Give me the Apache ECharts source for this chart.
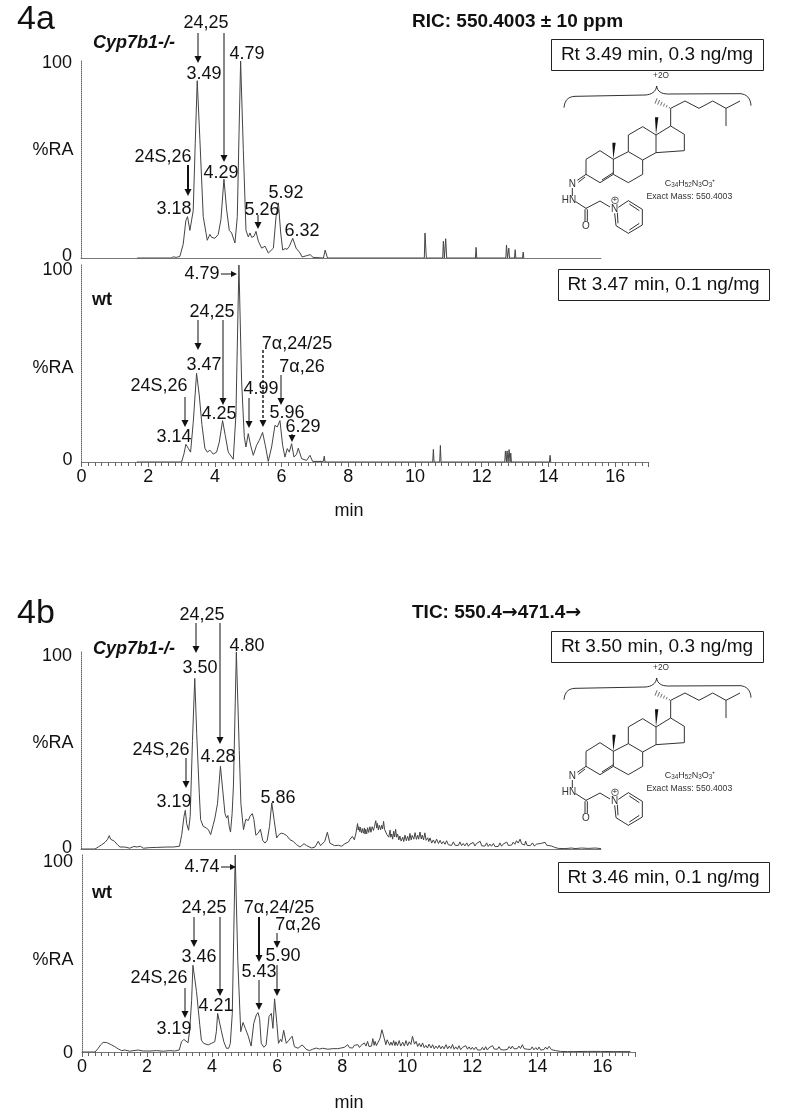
<!DOCTYPE html>
<html>
<head>
<meta charset="utf-8">
<title>Chromatograms 4a 4b</title>
<style>
html,body{margin:0;padding:0;background:#fff;}
#main{width:787px;height:1120px;}
</style>
<script src="https://cdn.jsdelivr.net/npm/echarts@6/dist/echarts.min.js"></script>
</head>
<body>
<div id="main"></div>
<script>
// values: [retention time in min, %RA]
var traceA1 = [[1.68,0],[1.72,1],[1.78,0],[2.7,0],[2.76,0.6],[2.85,0.3],[2.96,0.8],[3.06,7],[3.14,19],[3.19,21],[3.26,14],[3.31,13.5],[3.36,24],[3.42,58],[3.48,90],[3.56,60],[3.66,21],[3.74,13],[3.78,9],[3.86,12],[3.91,10.5],[3.96,11],[4.01,10],[4.11,12],[4.19,19.5],[4.28,40],[4.36,24.5],[4.44,14],[4.51,12.7],[4.61,7.6],[4.68,21],[4.73,62],[4.78,100],[4.86,55],[4.94,14],[5.01,10.7],[5.06,12.7],[5.11,10.5],[5.18,11],[5.24,13.5],[5.31,8.5],[5.41,5],[5.51,6],[5.61,2.5],[5.76,5],[5.84,21],[5.91,28],[5.98,12.7],[6.04,4],[6.11,4.8],[6.17,4.4],[6.24,6],[6.34,10],[6.44,5],[6.56,2.5],[6.62,0.5],[6.76,1.2],[6.86,1.7],[6.95,0.3],[7.26,0],[7.31,4],[7.35,4.2],[7.38,0],[10.28,0],[10.3,12.7],[10.34,0],[10.83,0],[10.85,8.5],[10.88,0],[10.9,0],[10.92,9.8],[10.95,0],[11.81,0],[11.83,5.4],[11.85,0],[12.72,0],[12.74,6.6],[12.77,0],[12.79,0],[12.81,5],[12.83,0],[12.98,0],[13,4.2],[13.02,0],[13.22,0],[13.24,3],[13.26,0]];
var traceA2 = [[1.66,0],[1.7,0.5],[1.74,0],[3,0],[3.07,4],[3.13,9],[3.2,7],[3.27,5],[3.35,20],[3.45,45],[3.53,34],[3.61,19],[3.7,7],[3.77,5],[3.85,6],[3.95,4],[4.05,5],[4.13,10],[4.23,21],[4.31,13.5],[4.4,5],[4.55,1.4],[4.63,24],[4.72,100],[4.8,41],[4.88,13],[4.93,7.6],[5,14.4],[5.07,8.5],[5.15,3.4],[5.25,8.5],[5.33,11],[5.43,15],[5.51,8.5],[5.6,0.3],[5.7,7.6],[5.8,18.6],[5.87,17.8],[5.95,21],[6.03,8.5],[6.1,2.5],[6.17,6.8],[6.23,5],[6.3,9.3],[6.37,2.5],[6.45,4],[6.5,7],[6.6,1.7],[6.75,0.8],[6.85,3.4],[6.93,0.3],[7.25,0.3],[7.28,3],[7.3,0],[10.53,0],[10.55,6.4],[10.57,0],[10.74,0],[10.76,8.4],[10.78,0],[12.69,0],[12.71,5.6],[12.74,0],[12.76,5.6],[12.79,0],[12.82,6.3],[12.85,0],[12.87,4.5],[12.89,0],[14.03,0],[14.05,3.4],[14.07,0]];
var traceB1 = [[0,0],[0.43,0],[0.53,1],[0.64,2.2],[0.74,3.4],[0.81,4.7],[0.87,6.8],[0.91,5],[0.96,5.4],[1.03,3.9],[1.12,2.2],[1.2,1],[1.35,1],[1.5,0.4],[1.63,1.3],[1.72,1],[1.82,1.4],[1.92,0.4],[2.12,0.7],[2.33,0.8],[2.64,1],[2.84,1],[3.03,1.4],[3.1,7.3],[3.17,16.6],[3.21,19.6],[3.25,13],[3.31,9.5],[3.36,16.6],[3.43,55],[3.5,86.6],[3.56,58.7],[3.64,28],[3.68,15],[3.76,11.5],[3.85,10.7],[3.92,9.8],[3.99,7.3],[4.07,12.4],[4.12,15.7],[4.17,15],[4.2,23],[4.29,42],[4.36,30],[4.43,18],[4.48,15.7],[4.52,17],[4.56,11.5],[4.6,8.6],[4.65,18],[4.69,32],[4.78,100],[4.87,50],[4.92,23],[5,9.8],[5.07,15],[5.15,14.5],[5.2,16.6],[5.27,18],[5.32,15],[5.38,7],[5.45,8],[5.52,10],[5.59,4.4],[5.66,3],[5.73,4.4],[5.8,11.5],[5.87,23.4],[5.94,15],[6.02,5.6],[6.09,7.3],[6.16,8],[6.23,7.8],[6.33,6.8],[6.43,4.7],[6.53,3.9],[6.63,2.2],[6.74,1],[6.86,2.7],[6.94,1.7],[7.1,0.5],[7.2,1],[7.3,3.9],[7.37,1.7],[7.5,3.9],[7.58,8.5],[7.66,3],[7.8,1.7],[7.92,1.9],[8.02,1.4],[8.12,2.7],[8.23,3.6],[8.28,5],[8.35,6.4],[8.41,4.7],[8.46,8],[8.51,12.9],[8.53,9.6],[8.55,11.3],[8.58,8.8],[8.6,11],[8.63,8.2],[8.66,10.3],[8.69,8],[8.72,10.7],[8.74,7.6],[8.76,10],[8.79,7.7],[8.82,10.8],[8.85,8.4],[8.89,11.3],[8.92,8.5],[8.96,11.3],[9,9.4],[9.03,11.5],[9.07,14.4],[9.1,10.6],[9.12,13],[9.15,9.7],[9.18,12],[9.22,9.8],[9.25,12],[9.28,10.2],[9.31,14],[9.34,10],[9.37,11],[9.41,7.4],[9.44,8.4],[9.47,6],[9.51,9.6],[9.53,6],[9.56,7.6],[9.59,5],[9.62,9],[9.65,6.1],[9.68,10],[9.71,6],[9.74,7.6],[9.78,4.6],[9.81,6.6],[9.85,4],[9.9,6],[9.93,3.8],[9.97,7],[10.01,4.2],[10.05,6.4],[10.09,4.2],[10.12,7.9],[10.16,4.6],[10.19,6.9],[10.24,5],[10.28,8.3],[10.32,4.9],[10.36,7],[10.39,5],[10.43,8.6],[10.47,5.1],[10.5,7],[10.54,4.6],[10.58,8.2],[10.62,4.4],[10.67,5.7],[10.7,3.8],[10.74,5.6],[10.79,3],[10.84,4.6],[10.89,2.9],[10.94,5],[11,2.8],[11.05,4.4],[11.1,2.6],[11.15,3.8],[11.2,2.4],[11.25,4.2],[11.3,2.2],[11.35,3.2],[11.4,1.8],[11.46,3.6],[11.51,1.9],[11.56,2.9],[11.61,1.8],[11.66,3.6],[11.71,1.7],[11.76,2.8],[11.81,1.6],[11.87,3.1],[11.92,1.4],[11.97,2.5],[12.02,1.8],[12.07,3.3],[12.12,1.5],[12.17,2.8],[12.22,1.8],[12.28,3.9],[12.33,1.6],[12.38,2.4],[12.43,1.5],[12.48,3.1],[12.53,1.3],[12.58,2.5],[12.63,1.4],[12.69,2.8],[12.74,1.2],[12.79,2.1],[12.84,1.3],[12.89,3.1],[12.94,1.4],[12.99,2.5],[13.05,1.8],[13.1,3.5],[13.15,1.8],[13.2,2.8],[13.25,2],[13.3,3.5],[13.35,2.4],[13.4,4.2],[13.45,3],[13.51,5],[13.56,2.6],[13.61,3.1],[13.65,2],[13.68,4],[13.73,1.8],[13.78,2.8],[13.83,1.7],[13.89,3.1],[13.95,1.5],[14.02,2.5],[14.08,1.6],[14.15,2.8],[14.21,1.8],[14.28,3.4],[14.33,1.9],[14.38,1.4],[14.48,1.5],[14.58,0.8],[14.69,0.3],[14.89,0.2],[15.1,0.5],[15.2,0.2],[15.4,0.5],[15.61,0.3],[15.82,0.5],[16,0.2]];
var traceB2 = [[0,0],[0.4,0],[0.5,1.9],[0.57,3.6],[0.65,4.9],[0.7,4],[0.76,4.8],[0.81,4.4],[0.91,3.6],[1.01,2.7],[1.12,1.5],[1.22,0.7],[1.32,1],[1.47,0.4],[1.63,0.8],[1.73,1],[1.88,0.5],[2.09,0.5],[2.29,0.7],[2.5,0.4],[2.7,0.7],[2.85,0.5],[2.99,1],[3.06,5.2],[3.13,6.4],[3.19,7.4],[3.26,4.7],[3.31,11],[3.37,26],[3.41,44],[3.52,30.7],[3.62,13.8],[3.67,6],[3.74,4.4],[3.88,3.6],[3.98,4.4],[4.08,5.2],[4.13,10.3],[4.17,19.6],[4.23,18.8],[4.28,11],[4.36,5.2],[4.44,1.9],[4.51,1.9],[4.56,4.4],[4.62,19.6],[4.71,100],[4.79,46],[4.88,10.3],[4.95,15],[5.02,12],[5.1,8.6],[5.2,3],[5.28,14.6],[5.36,18.8],[5.41,20],[5.46,17],[5.51,4.4],[5.59,2.4],[5.66,3.6],[5.75,18],[5.82,19.6],[5.87,12],[5.92,27],[5.99,14.6],[6.04,4.4],[6.1,6.4],[6.14,5.2],[6.2,11],[6.28,4.4],[6.36,6],[6.46,8],[6.53,2.7],[6.64,1.9],[6.77,3.6],[6.89,1.4],[6.99,0.7],[7.09,1.4],[7.2,2],[7.3,1.5],[7.4,1.9],[7.56,1.4],[7.71,1.7],[7.76,1],[7.86,1.7],[7.96,2],[8.01,1.2],[8.07,2.4],[8.12,1.6],[8.17,3.7],[8.22,2.2],[8.27,2.9],[8.32,2],[8.37,3.4],[8.42,2.4],[8.48,3.7],[8.53,2.3],[8.58,3.4],[8.63,2.5],[8.68,4.6],[8.73,3],[8.78,5.4],[8.82,2.8],[8.86,3.7],[8.9,3],[8.94,6.8],[8.98,3.4],[9.01,5.4],[9.05,3.2],[9.09,4.6],[9.12,3.6],[9.16,6.8],[9.22,11.3],[9.29,7],[9.34,3.7],[9.38,6.2],[9.42,6.3],[9.46,3.4],[9.5,5],[9.54,3.4],[9.58,5.8],[9.62,3.2],[9.65,5.2],[9.7,3.2],[9.75,5.8],[9.8,3],[9.86,5],[9.91,3],[9.96,5.8],[10.01,3.2],[10.06,5.2],[10.11,3.8],[10.16,8],[10.22,4],[10.27,5.4],[10.32,2.8],[10.37,4.4],[10.42,2.6],[10.47,4.6],[10.52,2.2],[10.57,3.4],[10.62,2],[10.67,4],[10.73,2],[10.78,3.7],[10.83,1.6],[10.88,3],[10.93,1.8],[10.98,3.4],[11.03,1.6],[11.08,3],[11.13,1.6],[11.19,3.7],[11.24,1.6],[11.29,3],[11.34,1.8],[11.39,3.8],[11.44,1.4],[11.49,2.6],[11.54,1.4],[11.59,3.2],[11.64,1.2],[11.7,2.4],[11.75,1.4],[11.8,3.2],[11.85,1.4],[11.9,2.6],[11.95,1.3],[12,2.4],[12.05,1.2],[12.11,2.5],[12.16,1],[12.21,2],[12.26,1],[12.31,2.4],[12.36,1],[12.41,2.7],[12.46,1],[12.51,2.2],[12.56,1.4],[12.62,3.2],[12.67,1.5],[12.72,2.4],[12.77,1.4],[12.82,2.7],[12.87,1.2],[12.92,2.2],[12.97,1],[13.03,2],[13.08,1.3],[13.13,2.8],[13.18,1.6],[13.23,3],[13.28,1.6],[13.33,2.6],[13.38,1.7],[13.43,3],[13.48,1.8],[13.54,3.7],[13.59,1.7],[13.64,2.7],[13.69,1.4],[13.74,2.4],[13.79,1.3],[13.84,2.6],[13.89,1.1],[13.95,2.2],[14,1.1],[14.05,2.5],[14.1,1],[14.15,2],[14.2,1.2],[14.25,2.5],[14.3,1.4],[14.36,2.9],[14.43,1.2],[14.56,0.7],[14.71,0.3],[14.92,0.2],[15.12,0.2],[15.53,0.3],[15.94,0.3],[16.35,0.2],[16.86,0.2]];

var yTicks = [0, 100];
var xTickStep = 2;
var fontName = '"Liberation Sans"';
var ink = '#111';

// hand placed labels, same as in the paper figure: text, centre x, centre y
var peakLabels = [
  ['24,25',206,23],['3.49',204,74],['4.79',247,54],['24S,26',163,157],['4.29',221,173],['5.92',286,193],['3.18',174,209],['5.26',262,210],['6.32',302,231],
  ['4.79',202,274],['24,25',212,312],['7α,24/25',297,344],['7α,26',302,367],['3.47',204,365],['24S,26',159,386],['4.99',261,389],['4.25',219,414],['5.96',287,413],['6.29',303,427],['3.14',174,437],
  ['24,25',202,615],['4.80',247,646],['3.50',200,668],['24S,26',161,750],['4.28',218,757],['3.19',174,802],['5.86',278,798],
  ['4.74',202,867],['24,25',204,908],['7α,24/25',279,908],['7α,26',298,925],['3.46',199,957],['5.90',283,956],['24S,26',159,978],['5.43',259,972],['4.21',216,1006],['3.19',174,1029]
];
// arrows: x, y start, y tip, line width, dashed
var downArrows = [
  [198,33,63,1],[224,33,162,1],[188,165,196,2],[258,215,229,1],
  [198,320,350,1],[223,320,405,1],[263,350,427,1.4,true],[281,375,405,1],[185,397,427,1],[249,398,428,1],[292,434,442,1],
  [196,623,653,1],[220,623,744,1],[186,758,788,1],
  [194,917,947,1],[220,917,996,1],[259,917,962,2],[277,933,948,1],[277,965,996,1],[185,988,1018,1],[259,980,1010,1]
];
var sideArrows = [[221,237,274],[221,236,867]];

function text(str, x, y, font, align) {
  return {type:'text', z:20, silent:true, style:{text:str, x:x, y:y, font:font || ('18px ' + fontName), fill:ink, textAlign:align || 'center', verticalAlign:'middle'}};
}
function arrowTitle(a, b, x, y) {
  return {type:'text', z:20, silent:true, style:{
    text:'{t|' + a + '}{g|→}{t|' + b + '}{g|→}', x:x, y:y, textAlign:'left', verticalAlign:'middle',
    rich:{t:{font:'bold 19px ' + fontName, fill:ink}, g:{font:'bold 19px "DejaVu Sans"', fill:ink}}
  }};
}
function downArrow(a) {
  var x = a[0], y1 = a[1], y2 = a[2];
  return [
    {type:'line', z:20, silent:true, shape:{x1:x, y1:y1, x2:x, y2:y2 - 6}, style:{stroke:ink, lineWidth:a[3], lineDash:a[4] ? [3,2] : null}},
    {type:'polygon', z:20, silent:true, shape:{points:[[x - 3.5,y2 - 7],[x + 3.5,y2 - 7],[x,y2]]}, style:{fill:ink}}
  ];
}
function sideArrow(a) {
  return [
    {type:'line', z:20, silent:true, shape:{x1:a[0], y1:a[2], x2:a[1] - 5, y2:a[2]}, style:{stroke:ink, lineWidth:1}},
    {type:'polygon', z:20, silent:true, shape:{points:[[a[1] - 6,a[2] - 3],[a[1] - 6,a[2] + 3],[a[1],a[2]]]}, style:{fill:ink}}
  ];
}
function box(x, y, w, h, str) {
  return [
    {type:'rect', z:20, silent:true, shape:{x:x + 0.5, y:y + 0.5, width:w, height:h}, style:{fill:'#fff', stroke:'#222', lineWidth:1}},
    text(str, x + w / 2, y + h / 2 + 0.5, '19px ' + fontName)
  ];
}

// structure drawn at 3x and scaled down, so the numbers are the zoomed picture ones
function molecule(x, y) {
  var bonds = [
    [[812,325],[855,303],[897,325],[938,303],[978,325],[1020,303]],[[978,325],[978,378]],[[812,325],[812,378]],
    [[812,378],[853,403],[853,452],[768,458],[768,405],[812,378]],
    [[768,405],[728,380],[685,405],[685,455],[728,480],[768,458]],
    [[685,455],[640,478],[640,523],[685,548],[728,523],[728,480]],
    [[640,478],[600,452],[558,478],[558,523],[600,548],[640,523]],
    [[606,540],[640,518]],
    [[558,523],[532,541]],[[555,531],[535,547]],
    [[517,564],[517,588]],[[527,605],[558,625],[600,603],[630,621]],
    [[555,628],[555,664]],[[562,628],[562,664]],[[558,625],[558,628]],
    [[655,622],[685,602],[727,628],[727,675],[685,700],[648,677],[644,640]],
    [[688,612],[718,632]],[[718,670],[688,690]],[[654,670],[652,638]]
  ];
  var els = bonds.map(function (b) {
    return {type:'polyline', silent:true, shape:{points:b}, style:{stroke:'#222', lineWidth:2.8, fill:null}};
  });
  // wedges and the hashed methyl
  [[768,405,770,352],[640,478,642,428]].forEach(function (w) {
    els.push({type:'polygon', silent:true, shape:{points:[[w[0],w[1]],[w[2] - 5,w[3]],[w[2] + 5,w[3]]]}, style:{fill:'#111'}});
  });
  [[808,323],[800,319],[792,315],[784,311],[776,307],[768,303]].forEach(function (h, i) {
    var d = 2 + i * 1.2;
    els.push({type:'line', silent:true, shape:{x1:h[0] + d * 0.4, y1:h[1] - d, x2:h[0] - d * 0.4, y2:h[1] + d}, style:{stroke:'#222', lineWidth:2}});
  });
  // the +2O brace
  [[492,323,494,300,505,290,525,289],[735,285,755,284,768,275,770,258],[770,258,772,275,785,282,805,282],[1020,281,1040,282,1052,295,1053,317]].forEach(function (c) {
    els.push({type:'bezierCurve', silent:true, shape:{x1:c[0], y1:c[1], cpx1:c[2], cpy1:c[3], cpx2:c[4], cpy2:c[5], x2:c[6], y2:c[7]}, style:{stroke:'#222', lineWidth:2.8, fill:null}});
  });
  els.push({type:'line', silent:true, shape:{x1:525, y1:289, x2:735, y2:285}, style:{stroke:'#222', lineWidth:2.8}});
  els.push({type:'line', silent:true, shape:{x1:805, y1:282, x2:1020, y2:281}, style:{stroke:'#222', lineWidth:2.8}});
  function small(str, px, py, size, fill) {
    return {type:'text', silent:true, style:{text:str, x:px, y:py, font:(size || 30) + 'px ' + fontName, fill:fill || '#333', textAlign:'center', verticalAlign:'middle'}};
  }
  els.push(small('+2O', 783, 227, 25));
  els.push(small('N', 517, 552), small('HN', 507, 602), small('O', 558, 678), small('N', 644, 628));
  els.push({type:'circle', silent:true, shape:{cx:645, cy:601, r:10}, style:{stroke:'#222', lineWidth:2, fill:'#fff'}});
  els.push(small('+', 645, 601, 22, '#111'));
  els.push({type:'text', silent:true, style:{
    text:'{n|C}{s|34}{n|H}{s|52}{n|N}{s|3}{n|O}{s|3}{n|⁺}',
    x:870, y:552, textAlign:'center', verticalAlign:'middle',
    rich:{n:{font:'27px ' + fontName, fill:'#333'}, s:{font:'19px ' + fontName, fill:'#333', verticalAlign:'bottom', padding:[8,0,0,0]}}
  }});
  els.push(small('Exact Mass: 550.4003', 868, 590, 26));
  return {type:'group', x:x, y:y, scaleX:1 / 3, scaleY:1 / 3, z:20, children:els};
}

var graphics = [
  text('4a', 17, 20, '34px ' + fontName, 'left'),
  text('4b', 17, 614, '34px ' + fontName, 'left'),
  text('RIC: 550.4003 ± 10 ppm', 412, 22, 'bold 19px ' + fontName, 'left'),
  arrowTitle('TIC: 550.4', '471.4', 412, 613),
  text('Cyp7b1-/-', 93, 43, 'italic bold 18px ' + fontName, 'left'),
  text('Cyp7b1-/-', 93, 649, 'italic bold 18px ' + fontName, 'left'),
  text('wt', 92, 300, 'bold 18px ' + fontName, 'left'),
  text('wt', 92, 893, 'bold 18px ' + fontName, 'left'),
  text('%RA', 53, 150), text('%RA', 53, 368), text('%RA', 53, 743), text('%RA', 53, 960),
  text('min', 349, 511), text('min', 349, 1103),
  molecule(400, 0), molecule(400, 592)
];
graphics = graphics.concat(box(551, 39, 212, 31, 'Rt 3.49 min, 0.3 ng/mg'));
graphics = graphics.concat(box(558, 269, 211, 31, 'Rt 3.47 min, 0.1 ng/mg'));
graphics = graphics.concat(box(551, 631, 212, 31, 'Rt 3.50 min, 0.3 ng/mg'));
graphics = graphics.concat(box(558, 862, 211, 30, 'Rt 3.46 min, 0.1 ng/mg'));
peakLabels.forEach(function (l) { graphics.push(text(l[0], l[1], l[2])); });
downArrows.forEach(function (a) { graphics = graphics.concat(downArrow(a)); });
sideArrows.forEach(function (a) { graphics = graphics.concat(sideArrow(a)); });

// left, top, width and x max of each panel, top panels have no ticks on x
// shift = how far the 0 and 100 labels sit off their tick in the paper figure
var panels = [
  {data:traceA1, left:81, top:61, width:520, max:15.57, ticks:false, shift:[-2,2]},
  {data:traceA2, left:81.5, top:265, width:567, max:17, ticks:true, shift:[-2,5]},
  {data:traceB1, left:81, top:652, width:520, max:16, ticks:false, shift:[-1,4]},
  {data:traceB2, left:82, top:855, width:553, max:17, ticks:true, shift:[1,7]}
];
function labelPad(s) {
  return s > 0 ? [2 * s,0,0,0] : [0,0,-2 * s,0];
}

var myChart = echarts.init(document.getElementById('main'), null, {renderer:'canvas'});
var option = {
  animation:false,
  backgroundColor:'#fff',
  textStyle:{fontFamily:fontName},
  grid:panels.map(function (p) {
    return {left:p.left, top:p.top, width:p.width, height:197, containLabel:false};
  }),
  xAxis:panels.map(function (p, i) {
    return {
      type:'value', gridIndex:i, min:0, max:p.max, interval:xTickStep, splitLine:{show:false},
      axisLine:{onZero:false, lineStyle:{color:'#777', width:1}},
      axisTick:{show:p.ticks, length:5, lineStyle:{color:'#666'}},
      minorTick:{show:p.ticks, splitNumber:10, length:4, lineStyle:{color:'#666'}},
      axisLabel:{show:p.ticks, fontSize:18, color:ink, margin:6, showMaxLabel:false}
    };
  }),
  yAxis:panels.map(function (p, i) {
    return {
      type:'value', gridIndex:i, min:yTicks[0], max:yTicks[1], interval:100, splitLine:{show:false},
      axisLine:{show:true, lineStyle:{color:'#666', width:1, type:'dotted'}},
      axisTick:{show:false},
      axisLabel:{
        margin:9,
        formatter:function (v) { return (v === 0 ? '{lo|' : '{hi|') + v + '}'; },
        rich:{
          lo:{fontSize:18, fontFamily:fontName, color:ink, padding:labelPad(p.shift[0])},
          hi:{fontSize:18, fontFamily:fontName, color:ink, padding:labelPad(p.shift[1])}
        }
      }
    };
  }),
  series:panels.map(function (p, i) {
    return {
      type:'line', xAxisIndex:i, yAxisIndex:i, data:p.data, showSymbol:false, symbol:'none',
      silent:true, lineStyle:{color:'#444', width:1}
    };
  }),
  graphic:{elements:graphics}
};
myChart.setOption(option);
</script>
</body>
</html>
